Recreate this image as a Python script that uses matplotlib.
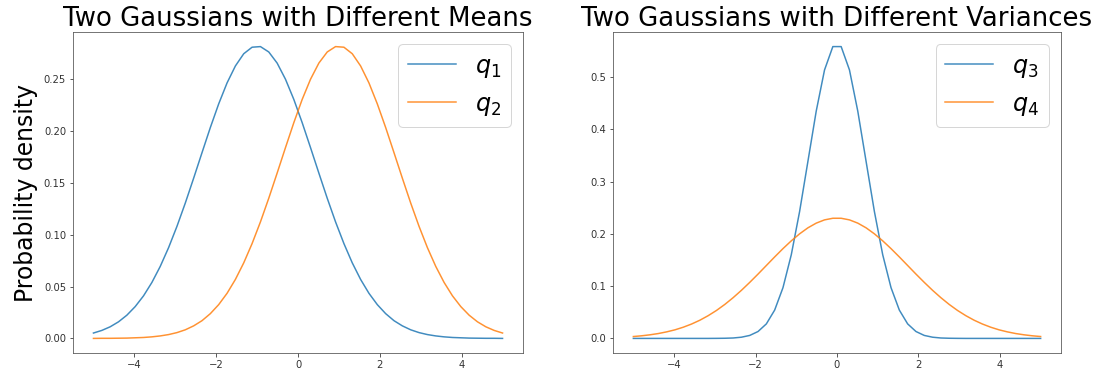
import matplotlib
matplotlib.use("Agg")
import matplotlib.pyplot as plt
import numpy as np

# x grid: 50 evenly spaced points from -5 to 5
x = np.linspace(-5, 5, 50)

q1 = [0.0052, 0.0077, 0.0112, 0.0160, 0.0224, 0.0307, 0.0411, 0.0540, 0.0695, 0.0876,
      0.1081, 0.1306, 0.1546, 0.1792, 0.2035, 0.2263, 0.2465, 0.2629, 0.2747, 0.2810,
      0.2816, 0.2764, 0.2657, 0.2501, 0.2306, 0.2082, 0.1841, 0.1595, 0.1353, 0.1124,
      0.0915, 0.0729, 0.0569, 0.0435, 0.0326, 0.0239, 0.0171, 0.0121, 0.0083, 0.0056,
      0.0037, 0.0024, 0.0015, 0.0009, 0.0006, 0.0003, 0.0002, 0.0001, 0.0001, 0.0000]

q2 = [0.0000, 0.0001, 0.0001, 0.0002, 0.0003, 0.0006, 0.0009, 0.0015, 0.0024, 0.0037,
      0.0056, 0.0083, 0.0121, 0.0171, 0.0239, 0.0326, 0.0435, 0.0569, 0.0729, 0.0915,
      0.1124, 0.1353, 0.1595, 0.1841, 0.2082, 0.2306, 0.2501, 0.2657, 0.2764, 0.2816,
      0.2810, 0.2747, 0.2629, 0.2465, 0.2263, 0.2035, 0.1792, 0.1546, 0.1306, 0.1081,
      0.0876, 0.0695, 0.0540, 0.0411, 0.0307, 0.0224, 0.0160, 0.0112, 0.0077, 0.0052]

q3 = [0.0000, 0.0000, 0.0000, 0.0000, 0.0000, 0.0000, 0.0000, 0.0000, 0.0000, 0.0000,
      0.0001, 0.0003, 0.0008, 0.0023, 0.0057, 0.0132, 0.0278, 0.0542, 0.0971, 0.1601,
      0.2427, 0.3387, 0.4349, 0.5137, 0.5584, 0.5584, 0.5137, 0.4349, 0.3387, 0.2427,
      0.1601, 0.0971, 0.0542, 0.0278, 0.0132, 0.0057, 0.0023, 0.0008, 0.0003, 0.0001,
      0.0000, 0.0000, 0.0000, 0.0000, 0.0000, 0.0000, 0.0000, 0.0000, 0.0000, 0.0000]

q4 = [0.0036, 0.0050, 0.0069, 0.0093, 0.0125, 0.0164, 0.0214, 0.0275, 0.0348, 0.0435,
      0.0535, 0.0650, 0.0779, 0.0920, 0.1072, 0.1231, 0.1395, 0.1559, 0.1718, 0.1867,
      0.2001, 0.2116, 0.2206, 0.2268, 0.2299, 0.2299, 0.2268, 0.2206, 0.2116, 0.2001,
      0.1867, 0.1718, 0.1559, 0.1395, 0.1231, 0.1072, 0.0920, 0.0779, 0.0650, 0.0535,
      0.0435, 0.0348, 0.0275, 0.0214, 0.0164, 0.0125, 0.0093, 0.0069, 0.0050, 0.0036]

titles = ["Two Gaussians with Different Means", "Two Gaussians with Different Variances"]
labels_left = [r"$q_1$", r"$q_2$"]
labels_right = [r"$q_3$", r"$q_4$"]
ylabel = "Probability density"

DPI = 72
fig = plt.figure(figsize=(1108 / DPI, 383 / DPI), dpi=DPI)
W, H = 1108, 383
ax1 = fig.add_axes([73 / W, (H - 353) / H, 450 / W, 321 / H])
ax2 = fig.add_axes([613 / W, (H - 353) / H, 448 / W, 321 / H])

ax1.plot(x, q1, label=labels_left[0], alpha=0.85)
ax1.plot(x, q2, label=labels_left[1], alpha=0.85)
ax1.set_title(titles[0], fontsize=26, pad=5)
ax1.set_ylabel(ylabel, fontsize=23.5, labelpad=6)
ax1.legend(fontsize=24, loc="upper right")

ax2.plot(x, q3, label=labels_right[0], alpha=0.85)
ax2.plot(x, q4, label=labels_right[1], alpha=0.85)
ax2.set_title(titles[1], fontsize=26, pad=5)
ax2.legend(fontsize=24, loc="upper right")

for ax in (ax1, ax2):
    for s in ax.spines.values():
        s.set_color("#555555")
    ax.tick_params(colors="#333333", labelcolor="#333333")

fig.savefig("out.png", dpi=DPI, facecolor="white")
